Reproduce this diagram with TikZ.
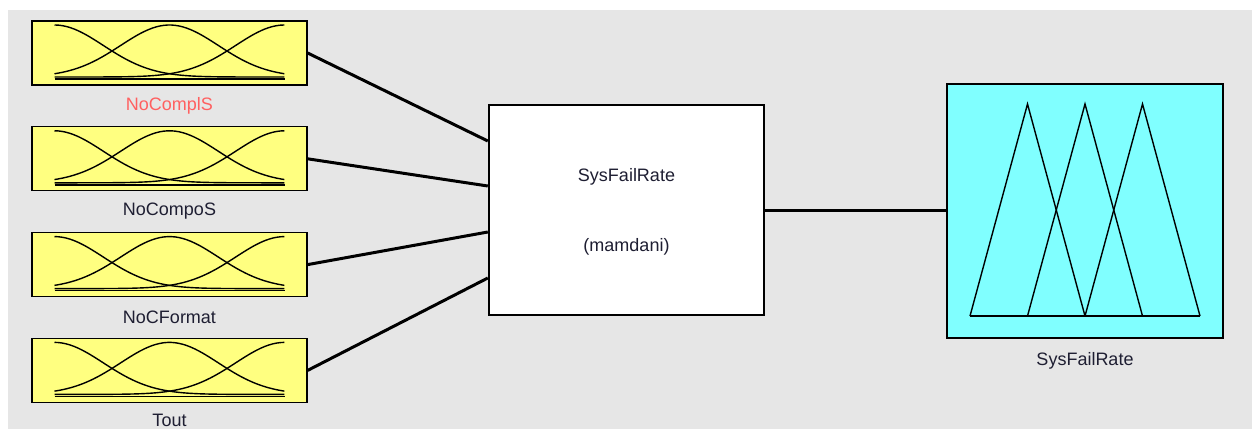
\documentclass[tikz,border=0pt]{standalone}
\usepackage{fontspec}
\setmainfont{Liberation Sans}
\usetikzlibrary{positioning}
\definecolor{panelgray}{RGB}{230,230,230}
\definecolor{mfyellow}{RGB}{255,255,128}
\definecolor{mfcyan}{RGB}{128,255,255}
\definecolor{labelred}{RGB}{255,96,96}
\definecolor{labelink}{RGB}{30,30,50}

\begin{document}
\begin{tikzpicture}[
        x=1pt, y=-1pt,
        node distance=40.5pt,
        inputmf/.style={rectangle, draw, line width=1.3pt, fill=mfyellow, minimum width=275pt, minimum height=64pt, inner sep=0pt},
        engine/.style={rectangle, draw, line width=2.4pt, fill=white, minimum width=275pt, minimum height=210pt, inner sep=0pt},
        outputmf/.style={rectangle, draw, line width=1.3pt, fill=mfcyan, minimum width=276pt, minimum height=254pt, inner sep=0pt},
        varname/.style={font=\fontsize{18}{20}\selectfont, text=labelink, inner sep=0pt},
        curve/.style={line width=1.4pt},
        link/.style={line width=3pt}
    ]
        \useasboundingbox (0,0) rectangle (1252,429);
        \fill[white] (0,0) rectangle (1252,429);
        \fill[panelgray] (8,10) rectangle (1252,429);

        % Input variables
        \node (in1) [inputmf] at (169.5,53) {};
        \node (in2) [inputmf, below=of in1] {};
        \node (in3) [inputmf, below=of in2] {};
        \node (in4) [inputmf, below=of in3] {};

        \node (lbl1) [varname, text=labelred] at ([yshift=-20pt]in1.south) {NoComplS};
        \node (lbl2) [varname] at ([yshift=-20pt]in2.south) {NoCompoS};
        \node (lbl3) [varname] at ([yshift=-20pt]in3.south) {NoCFormat};
        \node (lbl4) [varname] at ([yshift=-17pt]in4.south) {Tout};

        % Gaussian membership functions
        \foreach \b in {in1,in2,in3,in4} {
            \begin{scope}[shift={(\b.center)}]
                \draw[curve] (-115,26) -- (115,26);
                \foreach \c in {0,0.5,1}
                    \draw[curve] plot[domain=0:1, samples=60, smooth] ({-115+230*\x}, {24-52*exp(-((\x-\c)^2)/0.09015)});
            \end{scope}
        }

        % Inference system
        \node (engine) [engine] at (626.5,210) {};
        \node (ename) [varname] at ([yshift=33pt]engine.center) {SysFailRate};
        \node (etype) [varname] at ([yshift=-37pt]engine.center) {(mamdani)};

        % Output variable
        \node (outp) [outputmf] at (1085,211) {};
        \node (olbl) [varname] at ([yshift=-22pt]outp.south) {SysFailRate};

        % Triangular membership functions
        \begin{scope}[shift={(outp.center)}]
            \draw[curve] (-115,105) -- (115,105);
            \foreach \p in {-57.5,0,57.5}
                \draw[curve, line join=miter] (\p-57.5,105) -- (\p,-107) -- (\p+57.5,105);
        \end{scope}

        % Connections
        \draw[link] (in1.east) -- ([yshift=69pt]engine.west);
        \draw[link] (in2.east) -- ([yshift=24pt]engine.west);
        \draw[link] (in3.east) -- ([yshift=-22pt]engine.west);
        \draw[link] (in4.east) -- ([yshift=-68pt]engine.west);
        \draw[link] (engine.east) -- (engine.east -| outp.west);
    \end{tikzpicture}
\end{document}
